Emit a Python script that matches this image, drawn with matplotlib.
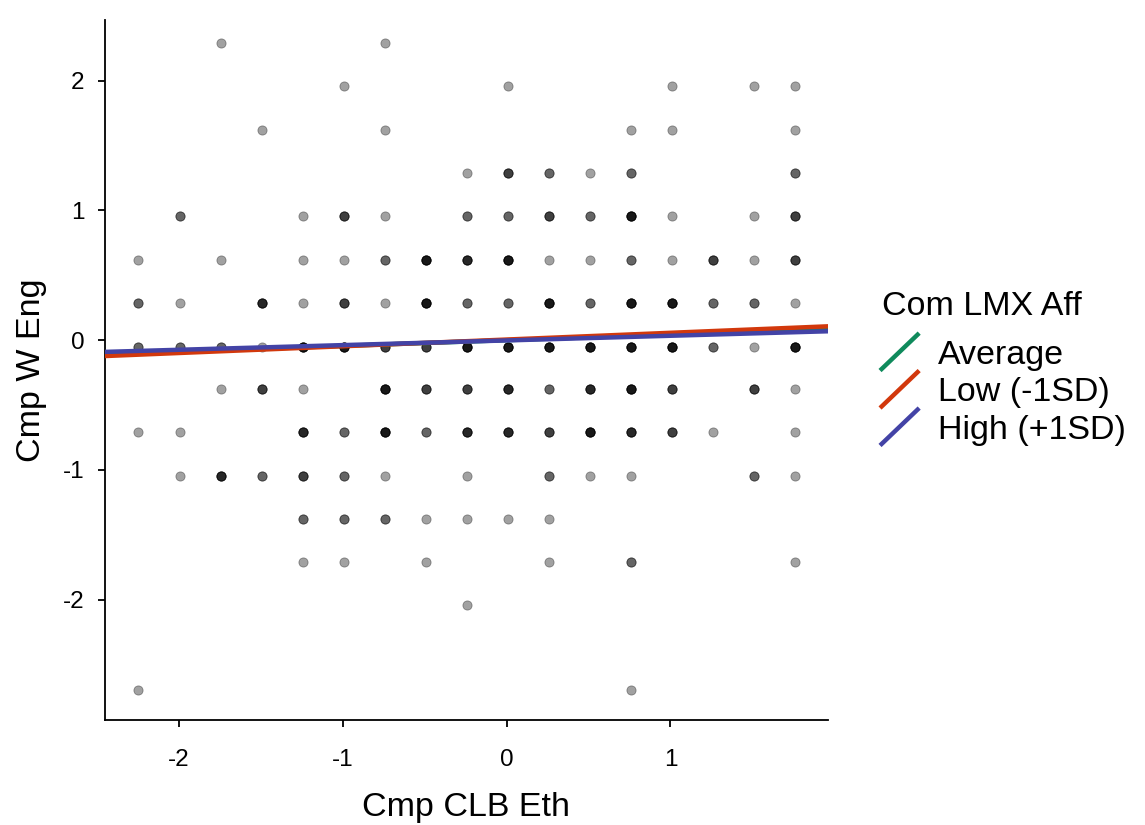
import matplotlib
matplotlib.use("Agg")
import matplotlib.pyplot as plt
import numpy as np
from matplotlib.legend_handler import HandlerLine2D
from matplotlib.lines import Line2D

plt.rcParams['font.family'] = ['Liberation Sans', 'DejaVu Sans']
plt.rcParams['axes.unicode_minus'] = False

# Datenpunkte (x, y, Anzahl überlagerter Beobachtungen)
pt_x = [
    -1.74, -0.74,
    -0.99, 0.01, 1.01, 1.51, 1.76,
    -1.49, -0.74, 0.76, 1.01, 1.76,
    -0.24, 0.01, 0.26, 0.51, 0.76, 1.76,
    -1.99, -1.24, -0.99, -0.74, -0.24, 0.01, 0.26, 0.51, 0.76, 1.01, 1.51, 1.76,
    -2.25, -1.74, -1.24, -0.99, -0.74, -0.49, -0.24, 0.01, 0.26, 0.51, 0.76, 1.01, 1.26, 1.51, 1.76,
    -2.25, -1.99, -1.49, -1.24, -0.99, -0.74, -0.49, -0.24, 0.01, 0.26, 0.51, 0.76, 1.01, 1.26, 1.51, 1.76,
    -2.25, -1.99, -1.74, -1.49, -1.24, -0.99, -0.74, -0.49, -0.24, 0.01, 0.26, 0.51, 0.76, 1.01, 1.26, 1.51, 1.76,
    -1.74, -1.49, -1.24, -0.74, -0.49, -0.24, 0.01, 0.26, 0.51, 0.76, 1.01, 1.51, 1.76,
    -2.25, -1.99, -1.24, -0.99, -0.74, -0.49, -0.24, 0.01, 0.26, 0.51, 0.76, 1.01, 1.26, 1.76,
    -1.99, -1.74, -1.49, -1.24, -0.99, -0.74, -0.24, 0.26, 0.51, 0.76, 1.51, 1.76,
    -1.24, -0.99, -0.74, -0.49, -0.24, 0.01, 0.26,
    -1.24, -0.99, -0.49, 0.26, 0.76, 1.76,
    -0.24,
    -2.25, 0.76,
]
pt_y = (
    [2.29] * 2 + [1.96] * 5 + [1.62] * 5 + [1.29] * 6 + [0.96] * 12 + [0.62] * 15
    + [0.29] * 16 + [-0.05] * 17 + [-0.38] * 13 + [-0.71] * 14 + [-1.05] * 12
    + [-1.38] * 7 + [-1.71] * 6 + [-2.04] * 1 + [-2.70] * 2
)
pt_n = [
    1, 1,
    1, 1, 1, 1, 1,
    1, 1, 1, 1, 1,
    1, 3, 2, 1, 2, 2,
    2, 1, 3, 1, 2, 2, 3, 2, 5, 1, 1, 3,
    1, 1, 1, 1, 2, 5, 4, 5, 1, 1, 2, 1, 3, 1, 3,
    2, 1, 4, 1, 3, 1, 5, 2, 2, 5, 2, 5, 5, 2, 2, 1,
    2, 2, 2, 1, 5, 5, 3, 3, 5, 5, 5, 5, 5, 5, 2, 1, 5,
    1, 3, 1, 5, 3, 3, 4, 2, 4, 5, 3, 3, 1,
    1, 1, 4, 2, 5, 2, 4, 4, 3, 5, 4, 3, 1, 1,
    1, 4, 2, 3, 2, 1, 1, 2, 1, 1, 2, 1,
    2, 2, 2, 1, 1, 1, 1,
    1, 1, 1, 1, 2, 1,
    1,
    1, 1,
]

# Einfache Steigungen je Moderator-Stufe
legend_title = 'Com LMX Aff'
groups = ['Average', 'Low (-1SD)', 'High (+1SD)']
intercepts = [0.0, 0.005, -0.002]
slopes = [0.044, 0.052, 0.036]
colors = ['#0f8a5c', '#d2380c', '#4343a6']


class DiagonalHandler(HandlerLine2D):
    def create_artists(self, legend, orig_handle, xdescent, ydescent,
                       width, height, fontsize, trans):
        yc = height / 2 - ydescent
        half = 0.55 * fontsize
        line = Line2D([-xdescent, width - xdescent], [yc - half, yc + half],
                      color=orig_handle.get_color(), lw=orig_handle.get_linewidth(),
                      solid_capstyle='butt')
        line.set_transform(trans)
        return [line]


fig = plt.figure(figsize=(11.45, 8.25), dpi=100)
ax = fig.add_axes([0.0917, 0.127, 0.6313, 0.849])

# Punkte entsprechend Anzahl wiederholen (Überlagerung -> dunkler)
xr = np.repeat(pt_x, pt_n)
yr = np.repeat(pt_y, pt_n)
ax.scatter(xr, yr, s=44, color='black', alpha=0.37, linewidths=0.6,
           edgecolors='black', zorder=2)

xlim = (-2.45, 1.96)
xx = np.array(xlim)
handles = []
for g, b0, b1, c in zip(groups, intercepts, slopes, colors):
    h, = ax.plot(xx, b0 + b1 * xx, color=c, lw=3.2, label=g, zorder=3)
    handles.append(h)

ax.set_xlim(*xlim)
ax.set_ylim(-2.93, 2.47)
ax.set_xticks([-2, -1, 0, 1])
ax.set_yticks([-2, -1, 0, 1, 2])
ax.spines['top'].set_visible(False)
ax.spines['right'].set_visible(False)
ax.spines['left'].set_linewidth(1.3)
ax.spines['bottom'].set_linewidth(1.3)
ax.tick_params(labelsize=17.5, length=5, width=1.3)
ax.tick_params(axis='x', pad=16)
ax.tick_params(axis='y', pad=10)
ax.set_xlabel('Cmp CLB Eth', fontsize=24.5, labelpad=14.5)
ax.set_ylabel('Cmp W Eng', fontsize=24.5, labelpad=11)

# Legende: Titel separat, Einträge mit diagonalen Linien
fig.text(0.770, 0.629, legend_title, fontsize=24.5, ha='left', va='center')
leg = fig.legend(handles=handles, labels=groups,
                 loc='center left', bbox_to_anchor=(0.7686, 0.524),
                 frameon=False, fontsize=24.5,
                 handler_map={Line2D: DiagonalHandler()},
                 handlelength=1.15, handleheight=0.7, labelspacing=0.19,
                 handletextpad=0.55, borderpad=0, borderaxespad=0)

fig.savefig('out.png', dpi=100)
